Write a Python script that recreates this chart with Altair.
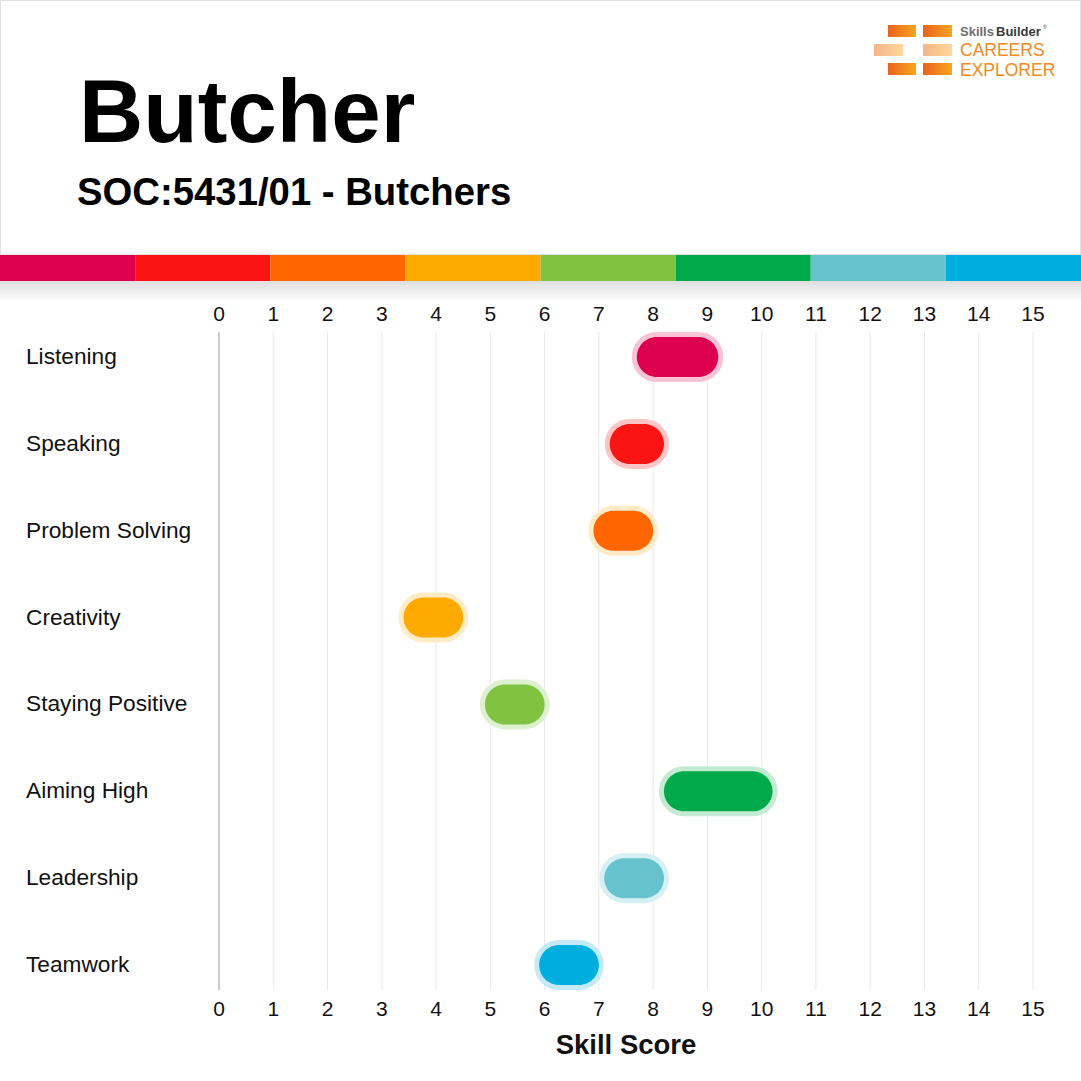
import altair as alt
import pandas as pd

# ---------------- data ----------------
skills = ["Listening", "Speaking", "Problem Solving", "Creativity",
          "Staying Positive", "Aiming High", "Leadership", "Teamwork"]
score_low = [7.7, 7.2, 6.9, 3.4, 4.9, 8.2, 7.1, 5.9]
score_high = [9.2, 8.2, 8.0, 4.5, 6.0, 10.2, 8.2, 7.0]
ticks = list(range(0, 16))
title_text = "Butcher"
subtitle_text = "SOC:5431/01 - Butchers"
x_title_text = "Skill Score"

# ---------------- styles ----------------
bar_colors = ["#DC004E", "#FA1414", "#FF6600", "#FFAA00",
              "#80C241", "#00AA4B", "#66C3CE", "#00ADDF"]
halo_colors = ["#F7C3D5", "#FFC4C4", "#FFEBC8", "#FFEBC4",
               "#DDF0CF", "#C2EBD2", "#D5F0F3", "#C4EAF7"]
FONT = "Liberation Sans"
W = H = 1081

bars_df = pd.DataFrame({"skill": skills, "low": score_low, "high": score_high})
ticks_df = pd.DataFrame({"tick": ticks})
stripe_df = pd.DataFrame({"skill": skills, "i": list(range(len(skills)))})
stripe_df["i2"] = stripe_df["i"] + 1
one = pd.DataFrame({"k": [0]})

x_scale = alt.Scale(domain=[0, 15], range=[219, 1033], nice=False, zero=False)
y_scale = alt.Scale(domain=skills, range=[313.6, 1008.4], paddingInner=0, paddingOuter=0)
fill_scale = alt.Scale(domain=skills, range=bar_colors)
halo_scale = alt.Scale(domain=skills, range=halo_colors)


def grad(c1, c2, vertical=False):
    return alt.Gradient(
        gradient="linear",
        stops=[alt.GradientStop(color=c1, offset=0), alt.GradientStop(color=c2, offset=1)],
        x1=0, y1=0, x2=0 if vertical else 1, y2=1 if vertical else 0,
    )


def box(x, x2, y, y2, **mark):
    return alt.Chart(one).mark_rect(**mark).encode(
        x=alt.value(x), x2=alt.value(x2), y=alt.value(y), y2=alt.value(y2))


def label(text, x, y, **mark):
    return alt.Chart(one).mark_text(text=text, font=FONT, **mark).encode(
        x=alt.value(x), y=alt.value(y))


# ---------------- header ----------------
header_box = box(0, W, 0, 255, fill="white", stroke="#E2E2E2", strokeWidth=2)
shadow = box(0, W, 281, 302, fill=grad("rgba(0,0,0,0.13)", "rgba(0,0,0,0)", vertical=True))

stripe = alt.Chart(stripe_df).mark_rect().encode(
    x=alt.X("i:Q", scale=alt.Scale(domain=[0, 8], range=[0, W], nice=False, zero=False), axis=None),
    x2="i2:Q",
    y=alt.value(255), y2=alt.value(281),
    fill=alt.Fill("skill:N", scale=fill_scale, legend=None),
)

title = label(title_text, 79, 142, fontSize=89, fontWeight="bold", color="#000",
              align="left", baseline="alphabetic")
subtitle = label(subtitle_text, 77, 205, fontSize=38.3, fontWeight="bold", color="#000",
                 align="left", baseline="alphabetic")

dark = grad("#EA621C", "#F8A51F")
light = grad("#F6B389", "#FDD99A")
logo = [
    box(888, 916, 25, 37, fill=dark), box(923, 952, 25, 37, fill=dark),
    box(874, 903, 44, 56, fill=light), box(923, 952, 44, 56, fill=light),
    box(888, 916, 63, 75, fill=dark), box(923, 952, 63, 75, fill=dark),
    label("Skills", 960, 36, fontSize=13, fontWeight="bold", color="#6D6E71",
          align="left", baseline="alphabetic"),
    label("Builder", 996, 36, fontSize=13, fontWeight="bold", color="#3A3A3A",
          align="left", baseline="alphabetic"),
    label("®", 1043, 29, fontSize=5, color="#3A3A3A", align="left", baseline="alphabetic"),
    label("CAREERS", 960, 56, fontSize=17.5, color="#F08A24", align="left", baseline="alphabetic"),
    label("EXPLORER", 960, 75.5, fontSize=17.5, color="#F08A24", align="left", baseline="alphabetic"),
]

# ---------------- chart body ----------------
grid = alt.Chart(ticks_df).transform_filter("datum.tick > 0").mark_rule(
    color="#E8E8E8", strokeWidth=1).encode(
    x=alt.X("tick:Q", scale=x_scale, axis=None),
    y=alt.value(332), y2=alt.value(990))
zero_line = alt.Chart(ticks_df).transform_filter("datum.tick == 0").mark_rule(
    color="#CCCCCC", strokeWidth=2).encode(
    x=alt.X("tick:Q", scale=x_scale, axis=None),
    y=alt.value(332), y2=alt.value(990))

tick_top = alt.Chart(ticks_df).mark_text(font=FONT, fontSize=21, color="#111",
                                         align="center", baseline="middle").encode(
    x=alt.X("tick:Q", scale=x_scale, axis=None), y=alt.value(314.5), text="tick:Q")
tick_bottom = alt.Chart(ticks_df).mark_text(font=FONT, fontSize=21, color="#111",
                                            align="center", baseline="middle").encode(
    x=alt.X("tick:Q", scale=x_scale, axis=None), y=alt.value(1009.5), text="tick:Q")
x_title = label(x_title_text, 626, 1046, fontSize=27.5, fontWeight="bold", color="#111",
                align="center", baseline="middle")

skill_labels = alt.Chart(bars_df).mark_text(font=FONT, fontSize=22.7, color="#111",
                                            align="left", baseline="middle").encode(
    x=alt.value(26),
    y=alt.Y("skill:N", scale=y_scale, axis=None),
    text="skill:N")

halo = alt.Chart(bars_df).mark_bar(size=40, cornerRadius=20, filled=False, strokeWidth=10).encode(
    x=alt.X("low:Q", scale=x_scale, axis=None),
    x2="high:Q",
    y=alt.Y("skill:N", scale=y_scale, axis=None),
    stroke=alt.Stroke("skill:N", scale=halo_scale, legend=None))
bars = alt.Chart(bars_df).mark_bar(size=40, cornerRadius=20).encode(
    x=alt.X("low:Q", scale=x_scale, axis=None),
    x2="high:Q",
    y=alt.Y("skill:N", scale=y_scale, axis=None),
    fill=alt.Fill("skill:N", scale=fill_scale, legend=None))

chart = alt.layer(
    header_box, shadow, stripe, title, subtitle, *logo,
    grid, zero_line, tick_top, tick_bottom, x_title, skill_labels, halo, bars,
).resolve_scale(x="independent").properties(
    width=W, height=H, padding=0,
    autosize=alt.AutoSizeParams(type="none"),
    background="white",
).configure_view(stroke=None)

chart.save("out.html", embed_options={"renderer": "svg", "actions": False})
